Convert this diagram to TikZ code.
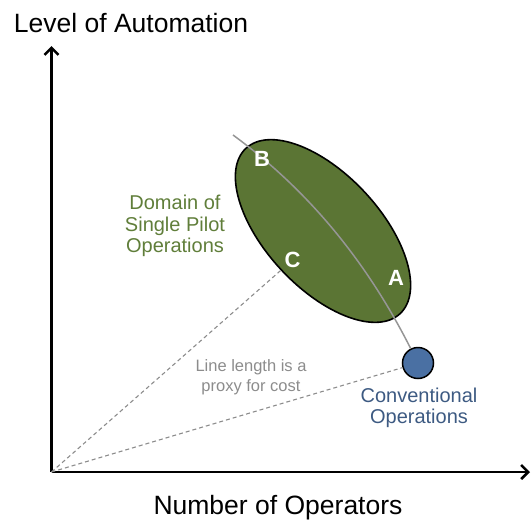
\documentclass[tikz,border=0pt]{standalone}
\usepackage{fontspec}
\setmainfont{Liberation Sans}
\usetikzlibrary{shapes.geometric,arrows.meta}
\definecolor{domgreen}{RGB}{91,117,52}
\definecolor{domtext}{RGB}{96,126,58}
\definecolor{convblue}{RGB}{74,112,163}
\definecolor{convtext}{RGB}{61,90,130}
\definecolor{arcgray}{RGB}{150,150,150}
\definecolor{dashgray}{RGB}{140,140,140}
\begin{document}
\begin{tikzpicture}[x=1pt,y=-1pt,
  axis/.style={line width=2.6pt,-{Straight Barb[length=7pt,width=14pt]}},
  costline/.style={draw=dashgray,dash pattern=on 4pt off 3pt,line width=1.1pt},
  arcline/.style={draw=arcgray,line width=1.5pt},
  axislabel/.style={font=\fontsize{26.5}{30}\selectfont,text=black,inner sep=0pt},
  letter/.style={font=\fontsize{22}{26}\selectfont\bfseries,text=white,inner sep=0pt},
  domlabel/.style={font=\fontsize{20}{21.3}\selectfont,text=domtext,align=center,inner sep=0pt},
  convlabel/.style={font=\fontsize{20}{21.5}\selectfont,text=convtext,align=center,inner sep=0pt},
  notelabel/.style={font=\fontsize{16.5}{19.5}\selectfont,text=dashgray,align=center,inner sep=0pt}
]
\useasboundingbox (0,0) rectangle (531,520);
% axes
\coordinate (O) at (51.5,472);
\coordinate (ytip) at (51.5,46);
\coordinate (xtip) at (530,472);
\draw[axis] (O) -- (ytip);
\draw[axis] (O) -- (xtip);
% domain ellipse and conventional circle
\node[ellipse,draw=black,line width=1.6pt,fill=domgreen,minimum width=226pt,minimum height=114pt,inner sep=0pt,rotate=-47] (dom) at (323,231) {};
\node[circle,draw=black,line width=1.5pt,fill=convblue,minimum size=31pt,inner sep=0pt] (conv) at (418,363) {};
% cost lines
\draw[costline] (O) -- (dom.south);
\draw[costline] (O) -- (conv);
% arc
\coordinate (arcstart) at (233,135);
\draw[arcline] (arcstart) .. controls (309.6,191.2) and (367.5,263) .. (conv);
% letters
\node[letter] (B) at (262,158.5) {B};
\node[letter] (C) at (292.5,260) {C};
\node[letter] (A) at (396,277.5) {A};
% labels
\node[axislabel,anchor=base] (ylab) at (131,32) {Level of Automation};
\node[axislabel,anchor=base] (xlab) at (278,514.5) {Number of Operators};
\node[domlabel] (domtxt) at (175,226) {Domain of\\Single Pilot\\Operations};
\node[convlabel] (convtxt) at (419,408) {Conventional\\Operations};
\node[notelabel] (note) at (251,377) {Line length is a\\proxy for cost};
\end{tikzpicture}
\end{document}
